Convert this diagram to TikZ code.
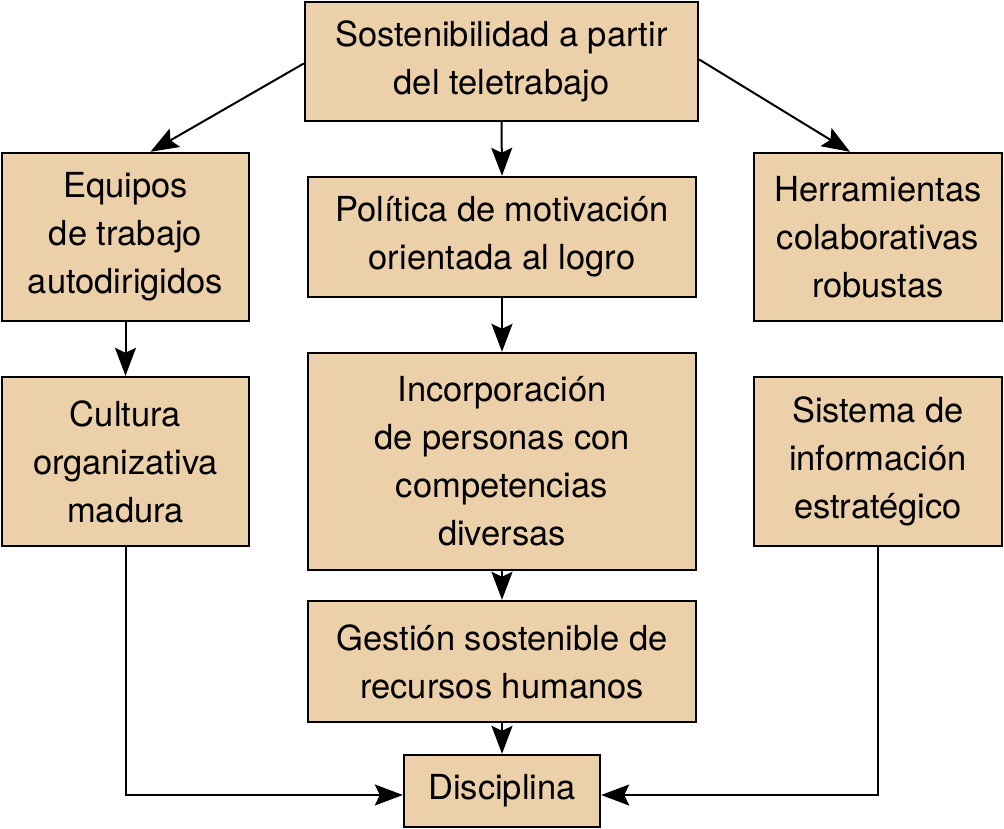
\documentclass[tikz,border=0pt]{standalone}
\usepackage{fontspec}
\setmainfont{TeX Gyre Heros}
\usetikzlibrary{arrows.meta,positioning}
\definecolor{boxfill}{RGB}{236,208,169}
\begin{document}
\begin{tikzpicture}[x=1pt,y=-1pt,
  box/.style={draw=black,line width=2.4pt,fill=boxfill,align=center,inner sep=0pt,
    font=\fontsize{34.5}{48}\selectfont},
  conn/.style={line width=2pt,-{Stealth[length=28pt,width=21pt,inset=5pt]}}]
\useasboundingbox (0,0) rectangle (1004,829);
\node[box,minimum width=393pt,minimum height=119pt] (top) at (501.5,61.5) {Sostenibilidad a partir\\del teletrabajo};
\node[box,minimum width=247pt,minimum height=168pt] (eq) at (125.5,237) {Equipos\\de trabajo\\autodirigidos};
\node[box,minimum width=388pt,minimum height=120pt] (po) at (502,237) {Política de motivación\\orientada al logro};
\node[box,minimum width=248pt,minimum height=168pt] (he) at (878,237) {Herramientas\\colaborativas\\robustas};
\node[box,minimum width=247pt,minimum height=169pt] (cu) at (125.5,461.5) {Cultura\\organizativa\\madura};
\node[box,minimum width=388pt,minimum height=217pt] (in) at (502,461.5) {Incorporación\\de personas con\\competencias\\diversas};
\node[box,minimum width=248pt,minimum height=169pt] (si) at (878,461.5) {Sistema de\\información\\estratégico};
\node[box,minimum width=388pt,minimum height=121pt] (ge) at (502,661.5) {Gestión sostenible de\\recursos humanos};
\node[box,minimum width=196pt,minimum height=72pt] (di) at (502,791) {Disciplina};
\draw[conn] ([yshift=-2pt]top.west) -- ([xshift=25pt]eq.north);
\draw[conn] ([yshift=2pt]top.east) -- ([xshift=-28pt]he.north);
\draw[conn] (top.south) -- (po.north);
\draw[conn] (po.south) -- (in.north);
\draw[conn] (in.south) -- (ge.north);
\draw[conn] (ge.south) -- (di.north);
\draw[conn] (eq.south) -- (cu.north);
\draw[conn] (cu.south) |- ([yshift=-4pt]di.west);
\draw[conn] (si.south) |- ([yshift=-4pt]di.east);
\end{tikzpicture}
\end{document}
